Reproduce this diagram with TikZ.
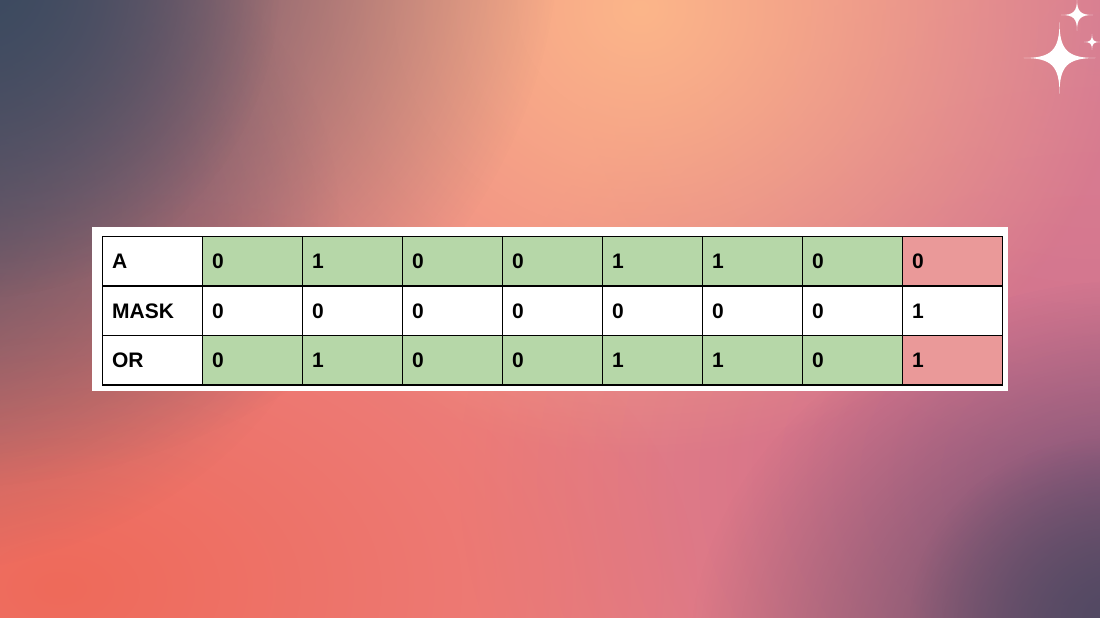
\documentclass[tikz,border=0pt]{standalone}
\usepackage{fontspec}
\setmainfont{Liberation Sans}
\usetikzlibrary{fadings}

\definecolor{bgbase}{HTML}{EC8282}
\definecolor{bgblue}{HTML}{3B4A60}
\definecolor{bgpurple}{HTML}{524963}
\definecolor{bgmagenta}{HTML}{C46A92}
\definecolor{bgpink}{HTML}{D67C94}
\definecolor{bgcoral}{HTML}{EF6A5A}
\definecolor{bgpeach}{HTML}{FCB68A}
\definecolor{cellgreen}{HTML}{B6D7A8}
\definecolor{cellred}{HTML}{EA9999}

\tikzfading[name=glowfade, inner color=transparent!0, outer color=transparent!100]

\tikzset{
  cell/.style={draw=black, line width=1.3pt, fill=white, anchor=north west,
    minimum width=100pt, minimum height=49.5pt, text width=80pt,
    inner xsep=10pt, inner ysep=0pt, align=left,
    font=\fontsize{21}{25}\selectfont\bfseries},
  glow/.style={path fading=glowfade}
}

% four pointed sparkle: x, y, radius
\newcommand{\sparkle}[3]{%
  \begin{scope}[shift={(#1,#2)}, scale=#3]
    \fill[white] (0,1) .. controls (0,0.22) and (0.22,0) .. (1,0)
      .. controls (0.22,0) and (0,-0.22) .. (0,-1)
      .. controls (0,-0.22) and (-0.22,0) .. (-1,0)
      .. controls (-0.22,0) and (0,0.22) .. (0,1) -- cycle;
  \end{scope}}

\begin{document}
\begin{tikzpicture}[x=1pt, y=1pt]
  \useasboundingbox (0,0) rectangle (1100,618);

  % Background gradient
  \begin{scope}
    \clip (0,0) rectangle (1100,618);
    \fill[bgbase] (0,0) rectangle (1100,618);
    \fill[bgmagenta, glow] (1100,140) ellipse (640 and 520);
    \fill[bgpink, glow] (1100,580) ellipse (520 and 440);
    \fill[bgcoral, glow] (60,30) ellipse (640 and 400);
    \fill[bgpeach, glow] (640,610) ellipse (490 and 450);
    \fill[bgblue, opacity=0.55, glow] (-120,400) ellipse (460 and 360);
    \fill[bgblue, glow] (-60,690) ellipse (620 and 560);
    \fill[bgblue, glow] (-20,640) ellipse (300 and 320);
    \fill[bgpurple, glow] (1150,-40) ellipse (460 and 380);
    \fill[bgpurple, glow] (1110,0) ellipse (200 and 180);
  \end{scope}

  % Sparkles
  \sparkle{1059.5}{560}{36}
  \sparkle{1077}{603}{16}
  \sparkle{1092}{576}{8}

  % White frame
  \fill[white] (92,227) rectangle (1008,391);

  % Row A
  \node[cell] (alab) at (101.5,382) {A};
  \foreach \v [count=\i] in {0,1,0,0,1,1,0}
    \node[cell, fill=cellgreen] (a\i) at (101.5+100*\i,382) {\v};
  \node[cell, fill=cellred] (a8) at (901.5,382) {0};

  % Row MASK
  \node[cell] (masklab) at (101.5,332.5) {MASK};
  \foreach \v [count=\i] in {0,0,0,0,0,0,0,1}
    \node[cell] (mask\i) at (101.5+100*\i,332.5) {\v};

  % Row OR
  \node[cell] (orlab) at (101.5,283) {OR};
  \foreach \v [count=\i] in {0,1,0,0,1,1,0}
    \node[cell, fill=cellgreen] (or\i) at (101.5+100*\i,283) {\v};
  \node[cell, fill=cellred] (or8) at (901.5,283) {1};
\end{tikzpicture}
\end{document}
